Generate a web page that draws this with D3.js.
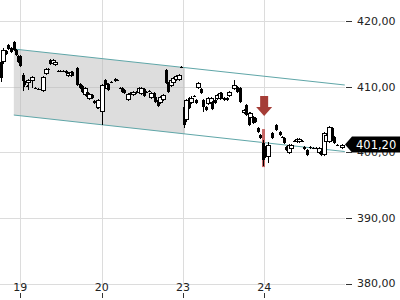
<!DOCTYPE html>
<html><head><meta charset="utf-8">
<script src="https://cdn.jsdelivr.net/npm/d3@7"></script>
<style>html,body{margin:0;padding:0;background:#fff;overflow:hidden}</style>
</head><body><svg id="c" width="400" height="300"></svg>
<script>
const dayLabels = ["19","20","23","24"];
const dayTicks = [0,1,2,3];
const priceTicks = [380,390,400,410,420];

// candle times, in trading days relative to the 19th
const times = [-0.24,-0.21,-0.18,-0.15,-0.11,-0.08,-0.05,-0.03,
0.00,0.03,0.05,0.08,0.10,0.14,0.18,0.22,0.25,0.28,0.31,0.34,0.37,0.40,0.43,0.46,0.49,0.53,0.56,0.59,0.62,0.64,0.70,0.73,0.76,0.79,0.82,0.84,0.88,0.91,0.94,0.96,0.99,
1.01,1.04,1.06,1.08,1.12,1.16,1.19,1.22,1.25,1.28,1.32,1.35,1.39,1.42,1.46,1.49,1.52,1.55,1.58,1.61,1.64,1.66,1.69,1.72,1.75,1.79,1.82,1.85,1.88,1.91,1.95,1.98,
2.01,2.04,2.07,2.10,2.13,2.16,2.18,2.22,2.25,2.28,2.31,2.34,2.36,2.39,2.42,2.45,2.47,2.50,2.54,2.57,2.63,2.66,2.70,2.75,2.78,2.81,2.83,2.86,2.89,2.92,2.95,
2.98,3.01,3.05,3.10,3.15,3.19,3.22,3.24,3.27,3.30,3.33,3.36,3.40,3.43,3.46,3.49,3.53,3.56,3.60,3.64,3.67,3.70,3.73,3.76,3.80,3.83,3.86,3.90,3.95];

const opens = [413.79,413.79,415.47,416.38,415.93,416.84,415.62,414.70,
414.70,411.81,410.89,410.13,410.58,410.89,409.82,409.67,409.67,409.36,411.96,412.72,414.09,413.48,413.33,412.42,412.42,412.42,412.42,411.65,411.65,412.26,412.87,410.43,410.13,408.75,409.21,408.14,408.75,407.84,407.68,406.77,408.45,
406.16,411.04,409.67,410.43,410.74,411.19,411.04,409.82,409.82,409.52,407.99,409.06,408.75,409.21,409.06,408.91,409.67,409.21,409.36,408.30,409.06,408.45,407.99,407.53,407.99,412.57,410.58,410.13,410.58,411.04,411.04,413.03,
406.92,404.94,408.30,407.53,408.60,407.99,409.82,409.67,407.99,406.92,407.38,407.53,407.68,407.99,408.14,408.14,409.06,408.30,408.30,408.60,409.67,409.97,409.82,406.01,407.23,406.01,405.24,405.40,405.24,403.72,402.65,
401.43,400.82,399.29,402.95,404.18,403.11,402.34,402.19,400.82,399.90,400.51,401.73,401.58,401.58,401.73,400.82,400.36,400.67,400.67,400.67,399.90,400.21,399.60,401.58,401.58,403.72,402.34,401.12,400.67];

const highs = [414.09,415.93,415.62,416.54,416.08,416.99,415.77,414.86,
414.86,412.11,411.04,410.28,411.19,411.65,409.97,409.82,409.67,411.65,412.87,412.87,414.25,414.25,413.94,412.57,412.57,412.57,412.57,412.26,412.42,412.42,413.03,410.58,410.28,409.97,409.36,409.06,408.91,407.99,407.84,408.14,408.60,
410.43,411.19,410.58,410.58,410.89,411.35,411.19,409.97,409.97,409.67,409.06,409.21,409.36,409.36,409.97,409.97,409.82,409.36,409.52,409.21,409.21,408.60,408.14,408.60,408.91,412.72,410.74,411.19,411.50,411.81,411.96,413.18,
407.38,408.14,408.45,408.60,408.75,408.14,410.74,409.82,408.14,407.07,408.45,408.45,407.84,408.14,408.91,409.21,409.21,408.45,408.45,409.36,411.04,410.13,409.97,406.62,407.38,406.16,406.16,405.55,405.40,403.87,402.80,
401.89,400.97,401.58,403.11,404.33,403.26,402.50,402.34,400.97,401.28,401.28,401.89,402.19,402.19,401.89,400.97,400.51,400.97,400.82,400.82,400.82,400.36,403.11,402.80,404.02,403.87,402.50,401.28,401.28];

const lows = [410.74,413.48,414.86,415.62,415.16,415.47,414.70,413.64,
413.03,409.36,409.97,409.97,409.52,409.82,409.67,409.52,409.52,409.21,411.81,412.57,413.33,413.33,413.18,412.26,412.26,412.26,412.11,411.50,411.50,411.65,410.13,409.67,409.06,408.60,408.30,407.99,408.14,407.38,406.62,406.62,407.84,
404.18,410.13,409.52,409.36,410.58,410.74,410.89,409.67,409.06,408.91,407.84,408.91,408.60,408.91,408.91,408.75,408.45,409.06,409.21,408.14,408.14,407.53,406.92,407.38,407.84,410.43,409.06,409.97,410.43,410.89,410.89,412.87,
403.72,404.63,406.62,407.38,408.45,407.38,409.67,408.91,406.16,406.31,407.23,407.38,406.46,407.38,407.99,407.99,408.14,407.84,407.84,408.45,409.52,409.06,407.53,405.85,405.55,404.02,405.09,404.33,404.48,402.95,402.04,
397.92,399.14,398.38,402.04,403.26,402.50,402.19,401.28,400.21,399.75,400.36,401.58,401.43,401.43,401.58,400.36,399.44,400.51,400.51,400.51,399.75,399.44,399.44,401.43,401.43,401.73,401.28,400.97,400.51];

const closes = [411.35,415.62,415.01,415.77,415.31,415.62,414.86,413.79,
413.18,410.89,410.28,410.13,411.04,411.50,409.82,409.67,409.52,411.50,412.72,412.72,413.48,414.09,413.79,412.42,412.42,412.26,412.11,412.11,412.26,411.81,410.28,409.82,409.21,409.82,408.45,408.91,408.30,407.53,406.77,407.99,407.99,
410.28,410.28,410.43,409.52,410.74,410.89,411.04,409.82,409.21,409.06,408.91,409.06,409.21,409.06,409.82,409.82,408.60,409.21,409.36,409.06,408.30,407.68,407.07,408.45,408.75,410.58,409.21,411.04,411.35,411.65,411.81,413.03,
404.18,407.99,406.77,408.30,408.60,407.53,410.58,409.06,406.92,406.46,408.30,408.30,406.62,407.53,408.75,409.06,408.30,407.99,407.99,409.21,410.28,409.21,407.68,406.46,405.70,404.18,406.01,404.48,404.63,403.11,402.19,
398.83,399.60,401.12,402.19,403.41,402.65,402.34,401.43,400.36,401.12,401.12,401.73,402.04,402.04,401.73,400.51,399.60,400.82,400.67,400.67,400.67,399.60,402.95,402.65,403.87,401.89,401.43,401.12,401.20];

// trend channel
const channelTimes = [-0.08, 3.99];
const channelUpper = [415.77, 410.28];
const channelLower = [405.70, 400.13];
const shadedTimes = [-0.08, 2.025];

// signal
const signalTime = 2.98;
const signalArrowTip = 405.55;
const signalRange = [403.56, 397.76];
const lastPrice = 401.20;

const W = 400, H = 300;
const svg = d3.select("#c");
const x = d3.scaleLinear().domain([-0.25, 4.0]).range([0, 345.6]);
const y = d3.scaleLinear().domain([380, 420]).range([283.5, 21.3]);
const fmt = d3.formatLocale({decimal: ",", thousands: ".", grouping: [3], currency: ["", " €"]}).format(".2f");
const font = "DejaVu Sans, Verdana, sans-serif";
const snap = v => Math.round(v) + 0.5;

// grid
svg.append("g").selectAll("line").data(priceTicks).join("line")
  .attr("x1", 0).attr("x2", 345).attr("y1", d => snap(y(d))).attr("y2", d => snap(y(d)))
  .attr("stroke", "#dcdcdc").attr("stroke-width", 1);
svg.append("g").selectAll("line").data(dayTicks).join("line")
  .attr("x1", d => snap(x(d))).attr("x2", d => snap(x(d))).attr("y1", 0).attr("y2", 284)
  .attr("stroke", "#dcdcdc").attr("stroke-width", 1);

// shaded channel part
const interp = (arr, t) => arr[0] + (arr[1] - arr[0]) * (t - channelTimes[0]) / (channelTimes[1] - channelTimes[0]);
const poly = [
  [shadedTimes[0], interp(channelUpper, shadedTimes[0])],
  [shadedTimes[1], interp(channelUpper, shadedTimes[1])],
  [shadedTimes[1], interp(channelLower, shadedTimes[1])],
  [shadedTimes[0], interp(channelLower, shadedTimes[0])]
];
svg.append("path").attr("d", "M" + poly.map(p => [x(p[0]), y(p[1])].join(",")).join("L") + "Z")
  .attr("fill", "#b8b8b8").attr("fill-opacity", 0.48);

// channel lines
const ln = d3.line().x(d => x(d[0])).y(d => y(d[1]));
[channelUpper, channelLower].forEach(arr => {
  svg.append("path").attr("d", ln(channelTimes.map((t, i) => [t, arr[i]])))
    .attr("fill", "none").attr("stroke", "#5fa6a8").attr("stroke-width", 1);
});

// signal highlight band
svg.append("rect").attr("x", Math.round(x(signalTime)) - 1).attr("width", 3)
  .attr("y", y(signalRange[0])).attr("height", y(signalRange[1]) - y(signalRange[0]))
  .attr("fill", "#c0504d").attr("fill-opacity", 0.85);

// candles
const candles = times.map((t, i) => ({t, o: opens[i], h: highs[i], l: lows[i], c: closes[i]}));
const cg = svg.append("g");
candles.forEach(d => {
  const cx = Math.round(x(d.t));
  cg.append("line").attr("x1", cx + 0.5).attr("x2", cx + 0.5)
    .attr("y1", y(d.h)).attr("y2", y(d.l)).attr("stroke", "#000").attr("stroke-width", 1);
  const top = Math.round(y(Math.max(d.o, d.c))), bot = Math.round(y(Math.min(d.o, d.c)));
  if (bot - top < 1.5) {
    cg.append("line").attr("x1", cx - 1).attr("x2", cx + 2).attr("y1", top + 0.5).attr("y2", top + 0.5)
      .attr("stroke", "#000").attr("stroke-width", 1);
  } else if (d.c > d.o) {
    cg.append("rect").attr("x", cx - 1.5).attr("y", top + 0.5).attr("width", 4).attr("height", bot - top - 1)
      .attr("fill", "#fff").attr("stroke", "#000").attr("stroke-width", 1);
  } else {
    cg.append("rect").attr("x", cx - 1).attr("y", top).attr("width", 3).attr("height", bot - top)
      .attr("fill", "#000");
  }
});

// signal arrow
const ax = x(signalTime) + 1.5, ay = y(signalArrowTip);
svg.append("path")
  .attr("d", `M${ax - 4},${ay - 20}L${ax + 4},${ay - 20}L${ax + 4},${ay - 9}L${ax + 8},${ay - 9}L${ax},${ay}L${ax - 8},${ay - 9}L${ax - 4},${ay - 9}Z`)
  .attr("fill", "#a53d37");

// y axis
const ya = svg.append("g");
ya.selectAll("line").data(priceTicks).join("line")
  .attr("x1", 346).attr("x2", 352).attr("y1", d => snap(y(d))).attr("y2", d => snap(y(d)))
  .attr("stroke", "#333");
ya.selectAll("text").data(priceTicks).join("text")
  .attr("x", 357).attr("y", d => y(d)).attr("dy", "0.36em")
  .attr("font-family", font).attr("font-size", 11).attr("fill", "#222")
  .text(d => fmt(d));

// x axis
const xa = svg.append("g");
xa.selectAll("line").data(dayTicks).join("line")
  .attr("x1", d => snap(x(d))).attr("x2", d => snap(x(d))).attr("y1", 293).attr("y2", 298)
  .attr("stroke", "#333");
xa.selectAll("text").data(dayTicks).join("text")
  .attr("x", d => x(d)).attr("y", 287).attr("dy", "0.36em").attr("text-anchor", "middle")
  .attr("font-family", font).attr("font-size", 11).attr("fill", "#222")
  .text((d, i) => dayLabels[i]);

// last price label
const ly = y(lastPrice);
svg.append("path")
  .attr("d", `M345,${ly}L352,${ly - 8}L${W},${ly - 8}L${W},${ly + 8}L352,${ly + 8}Z`)
  .attr("fill", "#000");
svg.append("text").attr("x", 356).attr("y", ly).attr("dy", "0.36em")
  .attr("font-family", font).attr("font-size", 11.5).attr("fill", "#fff")
  .text(fmt(lastPrice));
</script></body></html>
